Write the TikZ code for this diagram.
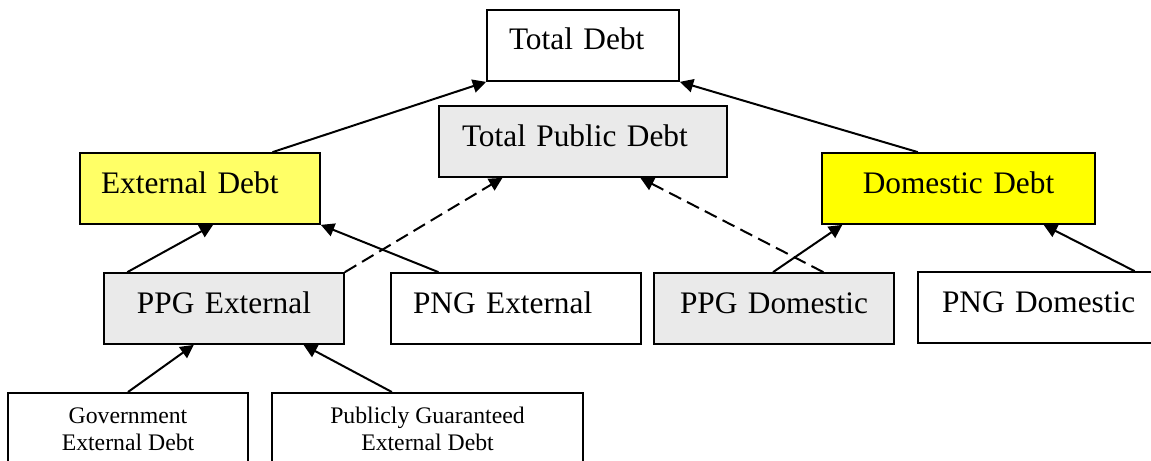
\documentclass[tikz,border=0pt]{standalone}
\usepackage{fontspec}
\setmainfont{Liberation Serif}
\usetikzlibrary{arrows.meta,calc}
\definecolor{lightyel}{RGB}{255,255,102}
\definecolor{yel}{RGB}{255,255,0}
\definecolor{boxgray}{RGB}{234,234,234}
\newcommand\bigtxt{\fontsize{23.5}{28}\selectfont}
\newcommand\smalltxt{\fontsize{17.8}{20.25}\selectfont}
\begin{document}
\begin{tikzpicture}[x=0.75pt,y=-0.75pt,
  box/.style={draw, line width=1.3pt, inner xsep=0pt, inner ysep=0pt, text height=30pt, text depth=23.25pt, font=\bigtxt, align=left},
  ctr/.style={align=center},
  smallbox/.style={draw, line width=1.3pt, inner sep=0pt, anchor=north, font=\smalltxt, fill=white},
  arr/.style={line width=1.5pt, -{Triangle[length=10pt,width=10pt]}},
  darr/.style={arr, dash pattern=on 10pt off 5pt}]
\useasboundingbox (0,0) rectangle (1151,460);
\clip (0,0) rectangle (1151,460);
\fill[white] (0,0) rectangle (1151,460);

\node[box, fill=white, text width=144pt] (total) at (583,45.5) {\hspace*{16.5pt}Total Debt};
\node[box, fill=boxgray, text width=216pt] (tpd) at (583,141.5) {\hspace*{17.25pt}Total Public Debt};
\node[box, fill=lightyel, text width=180pt] (ext) at (200,188.5) {\hspace*{15.75pt}External Debt};
\node[box, fill=yel, text width=204.75pt, ctr] (dom) at (958.5,188.5) {Domestic Debt};
\node[box, fill=boxgray, text width=180pt, ctr] (ppge) at (224,308.5) {PPG External};
\node[box, fill=white, text width=187.5pt] (pnge) at (516,308.5) {\hspace*{16.5pt}PNG External};
\node[box, fill=boxgray, text width=180pt, ctr] (ppgd) at (774,308.5) {PPG Domestic};
\node[box, fill=white, text width=189pt] (pngd) at (1044,307.5) {\hspace*{18pt}PNG Domestic};
\node[smallbox] (gov) at (128,392) {\raisebox{0pt}[43.5pt][20pt]{\parbox[b]{180pt}{\centering Government\\External Debt}}};
\node[smallbox] (pub) at (427.5,392) {\raisebox{0pt}[43.5pt][20pt]{\parbox[b]{233.25pt}{\centering Publicly Guaranteed\\External Debt}}};

\draw[arr] ($(ext.north west)!0.8!(ext.north east)$) -- (total.south west);
\draw[arr] ($(dom.north west)!0.352!(dom.north east)$) -- (total.south east);
\draw[arr] ($(ppge.north west)!0.1!(ppge.north east)$) -- ($(ext.south west)!0.554!(ext.south east)$);
\draw[arr] ($(pnge.north west)!0.192!(pnge.north east)$) -- (ext.south east);
\draw[darr] (ppge.north east) -- ($(tpd.south west)!0.222!(tpd.south east)$);
\draw[darr] ($(ppgd.north west)!0.704!(ppgd.north east)$) -- ($(tpd.south west)!0.698!(tpd.south east)$);
\draw[arr] ($(ppgd.north west)!0.496!(ppgd.north east)$) -- ($(dom.south west)!0.077!(dom.south east)$);
\draw[arr] ($(pngd.north west)!0.857!(pngd.north east)$) -- ($(dom.south west)!0.81!(dom.south east)$);
\draw[arr] (gov.north) -- ($(ppge.south west)!0.375!(ppge.south east)$);
\draw[arr] ($(pub.north west)!0.386!(pub.north east)$) -- ($(ppge.south west)!0.829!(ppge.south east)$);
\end{tikzpicture}
\end{document}
